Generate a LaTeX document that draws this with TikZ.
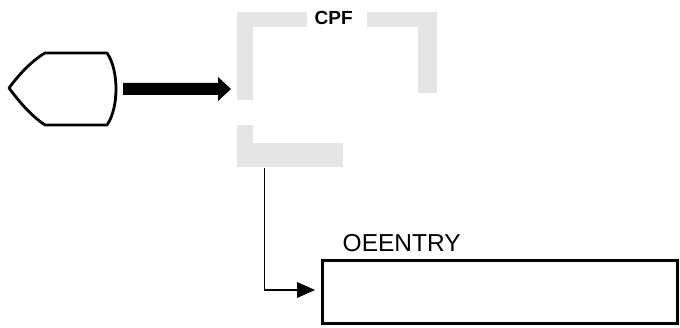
\documentclass[tikz,border=0pt]{standalone}
\usepackage{fontspec}
\setmainfont{Liberation Sans}
\begin{document}
\begin{tikzpicture}[x=1pt,y=-1pt,
  frame/.style={fill=gray!20,draw=none},
  outline/.style={draw=black,line width=2.8pt,line join=round},
  thin/.style={draw=black,line width=1.3pt},
  lbl/.style={inner sep=0pt,anchor=base west}]
\useasboundingbox (0,0) rectangle (680,328);
% start shape
\draw[outline] (45,53) -- (107,53) .. controls (119,70) and (119,108) .. (107,125)
  -- (45,125) .. controls (30,115) and (18,100) .. (9,88)
  .. controls (18,76) and (30,62) .. (45,53) -- cycle;
% thick arrow
\fill[black] (123,83) -- (218,83) -- (218,77) -- (231,89) -- (218,101) -- (218,95) -- (123,95) -- cycle;
% CPF faded frame
\fill[frame] (237,12) rectangle (307,27);
\fill[frame] (367,12) rectangle (437,27);
\fill[frame] (418,12) rectangle (437,93);
\fill[frame] (237,12) rectangle (253,100);
\fill[frame] (237,125) rectangle (253,167);
\fill[frame] (237,143) rectangle (343,167);
\node[lbl,font=\bfseries\fontsize{19}{21}\selectfont] (cpf) at (314.5,24.5) {CPF};
\coordinate (cpfB) at (264.5,168);
% OEENTRY box
\node[draw=black,line width=3.4pt,minimum width=355pt,minimum height=63pt,inner sep=0pt,anchor=north west] (oe) at (320.5,259) {};
\node[lbl,font=\fontsize{24.5}{26}\selectfont] (oel) at (342.5,251.5) {OEENTRY};
% connector
\coordinate (turn) at (264.5,290);
\draw[thin] (cpfB) -- (turn) -- (298,290);
\fill[black] (297,282) -- (315,290) -- (297,298) -- cycle;
\end{tikzpicture}
\end{document}
